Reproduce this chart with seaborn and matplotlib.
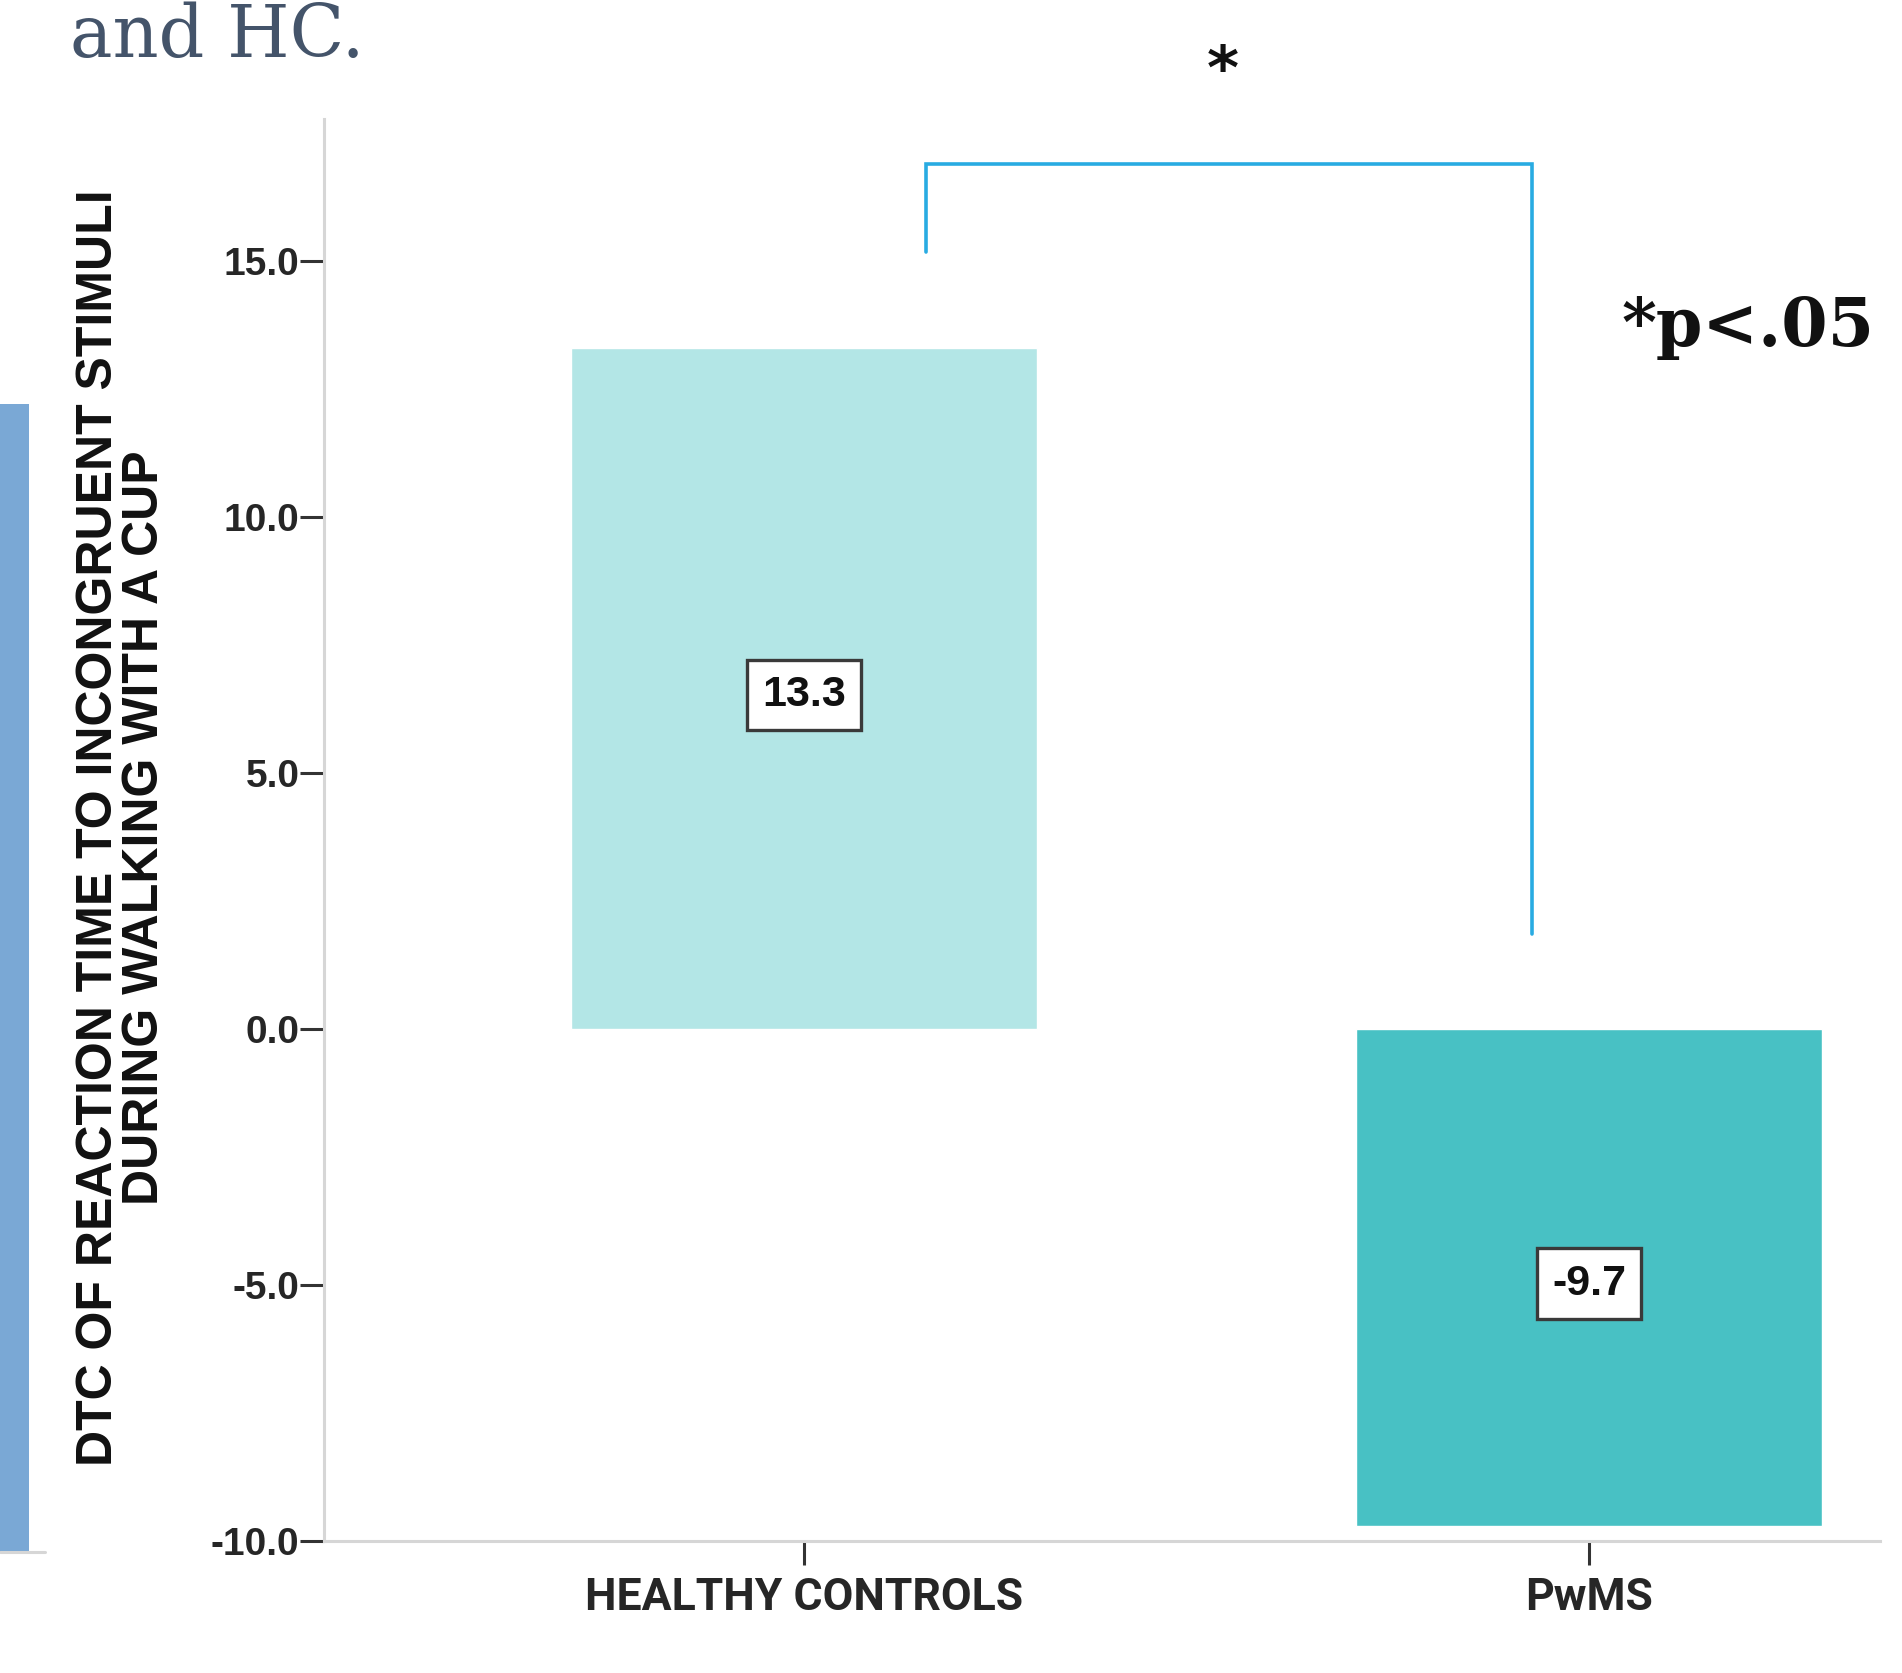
import matplotlib
matplotlib.use("Agg")
import matplotlib.pyplot as plt
import seaborn as sns

# data
groups = ["HEALTHY CONTROLS", "PwMS"]
dtc_means = [13.3, -9.7]
bar_colors = ["#b3e6e6", "#48c1c4"]
y_ticks = [-10.0, -5.0, 0.0, 5.0, 10.0, 15.0]

# significance bracket (data coords)
bracket_x = [0.156, 0.156, 0.927, 0.927]
bracket_y = [15.18, 16.9, 16.9, 1.86]

sns.set_style("white")
plt.rcParams["axes.unicode_minus"] = False

fig = plt.figure(figsize=(19.02, 16.73), dpi=100)
ax = fig.add_axes([0.1703, 0.0789, 0.818, 0.85])

sns.barplot(
    x=groups,
    y=dtc_means,
    hue=groups,
    palette=bar_colors,
    width=0.593,
    legend=False,
    saturation=1,
    ax=ax,
)

ax.set_xlim(-0.611, 1.37)
ax.set_ylim(-10, 17.78)
ax.set_yticks(y_ticks)
ax.set_yticklabels([f"{v:.1f}" for v in y_ticks],
                   fontfamily="Liberation Sans", fontweight="bold", fontsize=28)
ax.set_xticks(range(len(groups)))
ax.set_xticklabels(groups, fontfamily="Roboto", fontweight="bold", fontsize=32)
ax.set_xlabel("")
ax.set_ylabel("")

for side in ["top", "right"]:
    ax.spines[side].set_visible(False)
for side in ["left", "bottom"]:
    ax.spines[side].set_color("#d6d6d6")
    ax.spines[side].set_linewidth(2.2)

ax.tick_params(axis="y", direction="out", length=17, width=2.2,
               color="#333333", pad=0.5, left=True)
ax.tick_params(axis="x", direction="out", length=17, width=2.2,
               color="#333333", pad=9, bottom=True)

# value labels in boxes
for i, v in enumerate(dtc_means):
    ax.text(i, v / 2 - 0.12, f"{v:.1f}", ha="center", va="center",
            fontfamily="Liberation Sans", fontweight="bold", fontsize=31,
            color="#111111",
            bbox=dict(boxstyle="square,pad=0.35", facecolor="white",
                      edgecolor="#3a3a3a", linewidth=2.4))

# bracket + star
ax.plot(bracket_x, bracket_y, color="#29abe2", linewidth=2.6,
        clip_on=False, solid_joinstyle="miter")
fig.text(1223 / 1902, 1 - 72 / 1673, "*", ha="center", va="center",
         fontfamily="DejaVu Sans", fontweight="bold", fontsize=44,
         color="#111111")

fig.text(1622 / 1902, 1 - 346 / 1673, "*p<.05", ha="left", va="baseline",
         fontfamily="DejaVu Serif", fontweight="bold", fontsize=48,
         color="#111111")

# y-axis label
fig.text(122 / 1902, 1 - 828 / 1673,
         "DTC OF REACTION TIME TO INCONGRUENT STIMULI\nDURING WALKING WITH A CUP",
         rotation=90, ha="center", va="center", multialignment="center",
         fontfamily="Liberation Sans", fontweight="bold", fontsize=36,
         linespacing=0.98, color="#111111")

# slide fragments
fig.text(70 / 1902, 1 - 57 / 1673, "and HC.", ha="left", va="baseline",
         fontfamily="DejaVu Serif", fontsize=51.5, color="#44546a")
fig.patches.append(plt.Rectangle((0, 1 - 1553 / 1673), 29 / 1902,
                                 (1553 - 404) / 1673,
                                 transform=fig.transFigure,
                                 facecolor="#7aa8d5", edgecolor="none"))
fig.add_artist(plt.Line2D([0, 45 / 1902], [1 - 1552 / 1673, 1 - 1552 / 1673],
                          transform=fig.transFigure, color="#d6d6d6",
                          linewidth=2.2))

fig.savefig("out.png", dpi=100)
